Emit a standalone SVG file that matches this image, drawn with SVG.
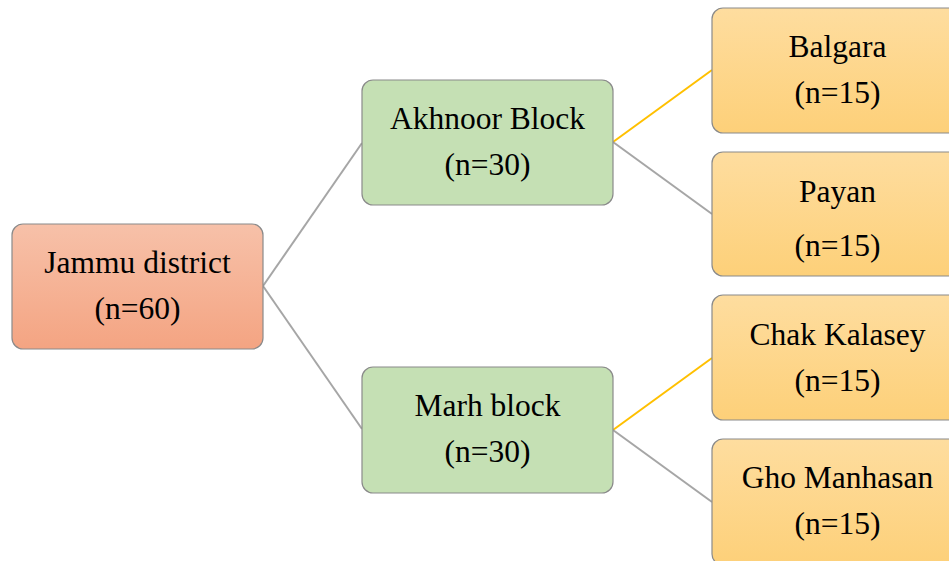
<svg xmlns="http://www.w3.org/2000/svg" width="949" height="561" viewBox="0 0 949 561">
<defs>
<linearGradient id="gRed" x1="0" y1="0" x2="0" y2="1"><stop offset="0" stop-color="#f7c1a9"/><stop offset="1" stop-color="#f4a482"/></linearGradient>
<linearGradient id="gYel" x1="0" y1="0" x2="0" y2="1"><stop offset="0" stop-color="#fedd9f"/><stop offset="1" stop-color="#fdd079"/></linearGradient>
</defs>
<style>
.box{stroke:#8a8a8a;stroke-width:1.2}
.green{fill:#c5e0b4}
.red{fill:url(#gRed)}
.yel{fill:url(#gYel)}
text{font-family:'Liberation Serif','Times New Roman',serif;font-size:31.5px;fill:#000;text-anchor:middle}
.gray{stroke:#a6a6a6;stroke-width:2;fill:none}
.gold{stroke:#ffc000;stroke-width:2;fill:none}
</style>
<g id="connectors">
<line class="gray" x1="263" y1="286" x2="362" y2="143"/>
<line class="gray" x1="263" y1="286" x2="362" y2="429"/>
<line class="gold" x1="613" y1="142" x2="712" y2="70"/>
<line class="gray" x1="613" y1="142" x2="712" y2="214"/>
<line class="gold" x1="613" y1="430" x2="712" y2="358"/>
<line class="gray" x1="613" y1="430" x2="712" y2="502"/>
</g>
<g id="jammu"><rect class="box red" x="12" y="224" width="251" height="125" rx="11"/><text x="137.5" y="273">Jammu district</text><text x="137.5" y="319">(n=60)</text></g>
<g id="akhnoor"><rect class="box green" x="362" y="80" width="251" height="125" rx="11"/><text x="487.5" y="129">Akhnoor Block</text><text x="487.5" y="175">(n=30)</text></g>
<g id="marh"><rect class="box green" x="362" y="367" width="251" height="126" rx="11"/><text x="487.5" y="416">Marh block</text><text x="487.5" y="462">(n=30)</text></g>
<g id="balgara"><rect class="box yel" x="712" y="8" width="251" height="125" rx="11"/><text x="837.5" y="57">Balgara</text><text x="837.5" y="103">(n=15)</text></g>
<g id="payan"><rect class="box yel" x="712" y="152" width="251" height="124" rx="11"/><text x="837.5" y="202">Payan</text><text x="837.5" y="256">(n=15)</text></g>
<g id="chak"><rect class="box yel" x="712" y="295" width="251" height="125" rx="11"/><text x="837.5" y="345">Chak Kalasey</text><text x="837.5" y="391">(n=15)</text></g>
<g id="gho"><rect class="box yel" x="712" y="439" width="251" height="126" rx="11"/><text x="837.5" y="488">Gho Manhasan</text><text x="837.5" y="534">(n=15)</text></g>
</svg>
